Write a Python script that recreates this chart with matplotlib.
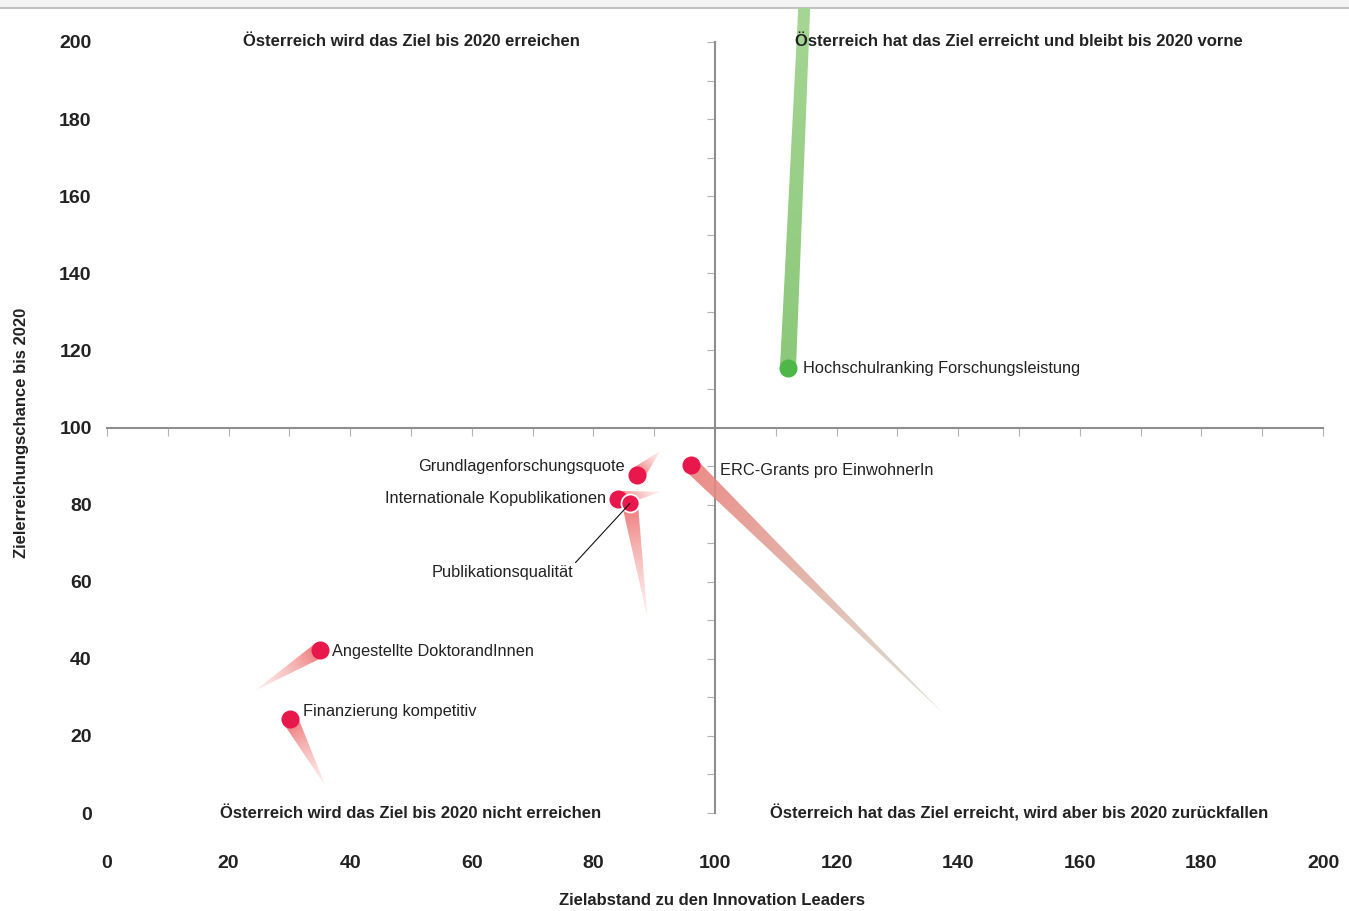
import numpy as np
import matplotlib
matplotlib.use("Agg")
import matplotlib.pyplot as plt
from matplotlib import font_manager
from matplotlib.colors import to_rgb
from matplotlib.patches import Polygon, Rectangle
from matplotlib.lines import Line2D

# ---- data -------------------------------------------------------------
indicators = [
    "Hochschulranking Forschungsleistung",
    "ERC-Grants pro EinwohnerIn",
    "Grundlagenforschungsquote",
    "Internationale Kopublikationen",
    "Publikationsqualität",
    "Angestellte DoktorandInnen",
    "Finanzierung kompetitiv",
]
# current position (Zielabstand, Zielerreichungschance)
x_now = [112.0, 96.0, 87.2, 84.1, 86.0, 35.0, 30.1]
y_now = [115.4, 90.3, 87.8, 81.5, 80.3, 42.3, 24.4]
# earlier position (end of the trail)
x_prev = [122.4, 137.5, 91.0, 91.0, 88.9, 24.3, 36.0]
y_prev = [478.6, 25.9, 93.9, 83.3, 50.5, 31.7, 6.8]
goal_reached = [True, False, False, False, False, False, False]

x_ticks = list(range(0, 201, 20))
y_ticks = list(range(0, 201, 20))

quadrant_titles = [
    (50, 200, "Österreich wird das Ziel bis 2020 erreichen"),
    (150, 200, "Österreich hat das Ziel erreicht und bleibt bis 2020 vorne"),
    (50, 0, "Österreich wird das Ziel bis 2020 nicht erreichen"),
    (150, 0, "Österreich hat das Ziel erreicht, wird aber bis 2020 zurückfallen"),
]

# ---- fonts ------------------------------------------------------------
available = {f.name for f in font_manager.fontManager.ttflist}
narrow = "Liberation Sans Narrow" if "Liberation Sans Narrow" in available else "Liberation Sans"
bold_font = [narrow, "DejaVu Sans"]
text_font = ["Liberation Sans", "DejaVu Sans"]

# ---- figure / axes ----------------------------------------------------
W, H = 1349, 911
fig = plt.figure(figsize=(W / 100, H / 100), dpi=100)
fig.patch.set_facecolor("white")

left_px, right_px, bottom_px, top_px = 107, 1323, 813, 8
px_per_y = (813 - 42) / 200.0
rect = [left_px / W, (H - bottom_px) / H, (right_px - left_px) / W, (bottom_px - top_px) / H]
ymax = (bottom_px - top_px) / px_per_y

# faint band at the very top of the page
fig.add_artist(Rectangle((0, (H - top_px) / H), 1, top_px / H, transform=fig.transFigure,
                         facecolor="#f4f4f4", edgecolor="none", zorder=0))
fig.add_artist(Line2D([0, 1], [(H - top_px) / H] * 2, transform=fig.transFigure,
                      color="#bdbdbd", lw=1.3, zorder=1))

# axes holding the crossing axis lines at (100, 100)
axc = fig.add_axes(rect, zorder=0)
axc.set_xlim(0, 200)
axc.set_ylim(0, ymax)
axc.patch.set_visible(False)
for s in ("top", "right"):
    axc.spines[s].set_visible(False)
for s in ("left", "bottom"):
    axc.spines[s].set_position(("data", 100))
    axc.spines[s].set_color("#8e8e8e")
    axc.spines[s].set_linewidth(1.5)
    axc.spines[s].set_bounds(0, 200)
axc.set_xticks(np.arange(0, 201, 10))
axc.set_yticks(np.arange(0, 201, 10))
axc.tick_params(which="both", direction="out", length=6, width=0.8, color="#b3b3b3",
                labelleft=False, labelbottom=False)

# main axes with labels and marks
ax = fig.add_axes(rect, zorder=1)
ax.set_xlim(0, 200)
ax.set_ylim(0, ymax)
ax.patch.set_visible(False)
for s in ax.spines.values():
    s.set_visible(False)
ax.set_xticks(x_ticks)
ax.set_yticks(y_ticks)
ax.set_xticklabels([str(v) for v in x_ticks], fontfamily=bold_font, fontweight="bold",
                   fontsize=14, color="#222222")
ax.set_yticklabels([str(v) for v in y_ticks], fontfamily=bold_font, fontweight="bold",
                   fontsize=14, color="#222222")
ax.tick_params(axis="both", length=0)
ax.tick_params(axis="x", pad=30)
ax.tick_params(axis="y", pad=11)
ax.set_xlabel("Zielabstand zu den Innovation Leaders", fontfamily=bold_font,
              fontweight="bold", fontsize=12, color="#222222", va="center")
ax.set_ylabel("Zielerreichungschance bis 2020", fontfamily=bold_font,
              fontweight="bold", fontsize=12, color="#222222", va="center")
ax.xaxis.set_label_coords(0.4975, -0.109)
ax.yaxis.set_label_coords(-0.07, 0.472)

for qx, qy, qt in quadrant_titles:
    ax.text(qx, qy, qt, ha="center", va="center", fontfamily=bold_font,
            fontweight="bold", fontsize=12, color="#222222", zorder=6)


def trail(x0, y0, x1, y1, width_px, c0, c1, a0, a1):
    """Tapered trail from (x0, y0) to (x1, y1) with a colour gradient."""
    tr = ax.transData
    p0 = tr.transform((x0, y0))
    p1 = tr.transform((x1, y1))
    d = p1 - p0
    L = np.hypot(*d)
    u = d / L
    nv = np.array([-u[1], u[0]])
    half = width_px / 2.0
    corners_px = np.array([p0 + nv * half, p1, p0 - nv * half])
    corners = tr.inverted().transform(corners_px)
    poly = Polygon(corners, closed=True, transform=tr, facecolor="none", edgecolor="none")
    ax.add_patch(poly)

    # gradient image over the bounding box (in pixels)
    xmin_px, ymin_px = corners_px.min(axis=0) - 2
    xmax_px, ymax_px = corners_px.max(axis=0) + 2
    nx = max(int(xmax_px - xmin_px), 2)
    ny = max(int(ymax_px - ymin_px), 2)
    gx, gy = np.meshgrid(np.linspace(xmin_px, xmax_px, nx), np.linspace(ymin_px, ymax_px, ny))
    t = ((gx - p0[0]) * u[0] + (gy - p0[1]) * u[1]) / L
    t = np.clip(t, 0, 1)
    c0 = np.array(to_rgb(c0))
    c1 = np.array(to_rgb(c1))
    img = np.zeros((ny, nx, 4))
    img[..., :3] = c0 + (c1 - c0) * t[..., None]
    img[..., 3] = a0 + (a1 - a0) * t
    (ex0, ey0), (ex1, ey1) = tr.inverted().transform([(xmin_px, ymin_px), (xmax_px, ymax_px)])
    im = ax.imshow(img, extent=(ex0, ex1, ey0, ey1), origin="lower", aspect="auto",
                   interpolation="bilinear", zorder=2)
    im.set_clip_path(poly)


for i in range(len(indicators)):
    if goal_reached[i]:
        trail(x_now[i], y_now[i], x_prev[i], y_prev[i], 16, "#8bc879", "#f3fee5", 1.0, 1.0)
    elif x_prev[i] > 100:
        trail(x_now[i], y_now[i], x_prev[i], y_prev[i], 16, "#e9807a", "#d3dbc9", 0.9, 0.8)
    else:
        trail(x_now[i], y_now[i], x_prev[i], y_prev[i], 16, "#ee6e70", "#fde4e0", 0.95, 0.5)
ax.set_xlim(0, 200)
ax.set_ylim(0, ymax)

dot_color = ["#4db848" if g else "#e9184c" for g in goal_reached]
for i in range(len(indicators)):
    edge = "white" if indicators[i] == "Publikationsqualität" else dot_color[i]
    ax.plot(x_now[i], y_now[i], "o", ms=13, mfc=dot_color[i], mec=edge,
            mew=1.3 if edge == "white" else 0, zorder=4)

label_style = dict(fontfamily=text_font, fontsize=11.8, color="#222222", zorder=6)
offsets = {
    "Hochschulranking Forschungsleistung": ((11, 0), "left", "center"),
    "ERC-Grants pro EinwohnerIn": ((21, -4), "left", "center"),
    "Grundlagenforschungsquote": ((-9, 6), "right", "center"),
    "Internationale Kopublikationen": ((-9, 0), "right", "center"),
    "Angestellte DoktorandInnen": ((9, -1), "left", "center"),
    "Finanzierung kompetitiv": ((9, 5), "left", "center"),
}
for i, name in enumerate(indicators):
    if name in offsets:
        (ox, oy), ha, va = offsets[name]
        ax.annotate(name, (x_now[i], y_now[i]), xytext=(ox, oy), textcoords="offset points",
                    ha=ha, va=va, **label_style)
    else:
        ax.annotate(name, (x_now[i], y_now[i]), xytext=(-92, -50), textcoords="offset points",
                    ha="center", va="center",
                    arrowprops=dict(arrowstyle="-", color="#111111", lw=0.8,
                                    shrinkA=0, shrinkB=0, relpos=(1.0, 1.0)),
                    **label_style)

fig.savefig("out.png", dpi=100, facecolor="white")
